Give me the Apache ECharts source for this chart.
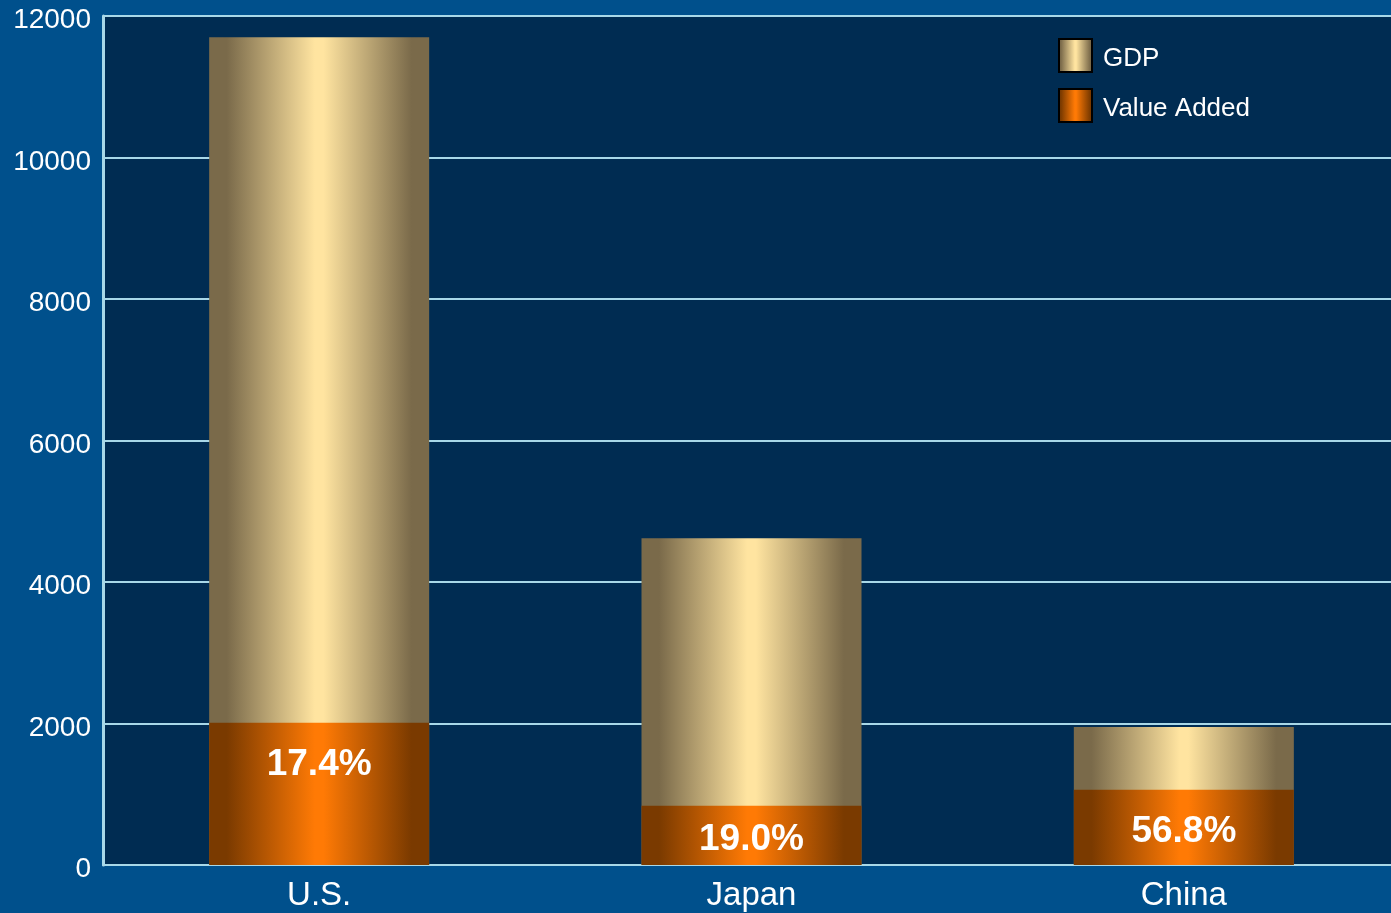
<!DOCTYPE html>
<html>
<head>
<meta charset="utf-8">
<title>GDP vs Value Added</title>
<script src="https://cdn.jsdelivr.net/npm/echarts@6/dist/echarts.min.js"></script>
<style>
    html, body { margin: 0; padding: 0; background: #00508C; overflow: hidden; }
    #chart { width: 1400px; height: 913px; }
</style>
</head>
<body>
<div id="chart"></div>
<script>
// 数据
var countries = ['U.S.', 'Japan', 'China'];
var gdpValues = [11700, 4620, 1950];
var valueAdded = [2010, 837, 1063];
var shareLabels = ['17.4%', '19.0%', '56.8%'];
var yTicks = { min: 0, max: 12000, interval: 2000 };

var lineColor = '#A8D8E8';
var fontName = 'Liberation Sans, Arial';

function barGradient(edge, mid) {
    return new echarts.graphic.LinearGradient(0, 0, 1, 0, [
        { offset: 0, color: edge },
        { offset: 0.08, color: edge },
        { offset: 0.48, color: mid },
        { offset: 0.52, color: mid },
        { offset: 0.92, color: edge },
        { offset: 1, color: edge }
    ]);
}

var myChart = echarts.init(document.getElementById('chart'));

var option = {
    backgroundColor: '#00508C',
    animation: false,
    grid: {
        left: 103,
        top: 16,
        right: 0,
        height: 849,
        show: true,
        backgroundColor: '#002C52',
        borderWidth: 0
    },
    legend: {
        orient: 'vertical',
        left: 1058,
        top: 38,
        padding: 0,
        itemWidth: 33,
        itemHeight: 33,
        itemGap: 15,
        icon: 'rect',
        itemStyle: { borderColor: '#000', borderWidth: 2 },
        formatter: '{a|{name}}',
        textStyle: {
            color: '#fff',
            fontSize: 26,
            fontFamily: fontName,
            rich: {
                a: { color: '#fff', fontSize: 26, fontFamily: fontName, padding: [7, 0, 0, 6] }
            }
        },
        data: ['GDP', 'Value Added']
    },
    xAxis: {
        type: 'category',
        data: countries,
        axisLine: { show: true, lineStyle: { color: lineColor, width: 2 } },
        axisTick: { show: false },
        axisLabel: { color: '#fff', fontSize: 33, margin: 14, fontFamily: fontName }
    },
    yAxis: {
        type: 'value',
        min: yTicks.min,
        max: yTicks.max,
        interval: yTicks.interval,
        axisLine: { show: true, lineStyle: { color: lineColor, width: 3 } },
        axisTick: { show: false },
        splitLine: { show: true, lineStyle: { color: lineColor, width: 2 } },
        axisLabel: {
            color: '#fff',
            margin: 12,
            formatter: function (v) { return '{a|' + v + '}'; },
            rich: {
                a: { color: '#fff', fontSize: 28, fontFamily: fontName, padding: [9, 0, 0, 0] }
            }
        }
    },
    series: [{
        name: 'GDP',
        type: 'bar',
        barWidth: 220,
        barGap: '-100%',
        z: 2,
        itemStyle: { color: barGradient('#7A6A4A', '#FFE4A0') },
        data: gdpValues
    }, {
        name: 'Value Added',
        type: 'bar',
        barWidth: 220,
        z: 3,
        itemStyle: { color: barGradient('#7A3A00', '#FF7A05') },
        label: {
            show: true,
            position: 'inside',
            offset: [0, 4],
            color: '#fff',
            fontSize: 37,
            fontWeight: 'bold',
            fontFamily: fontName,
            formatter: function (p) { return shareLabels[p.dataIndex]; }
        },
        data: valueAdded.map(function (v, i) {
            if (i === 0) {
                return { value: v, label: { position: 'insideTop', distance: 20 } };
            }
            return v;
        })
    }]
};

myChart.setOption(option);

window.addEventListener('resize', function () {
    myChart.resize();
});
</script>
</body>
</html>
